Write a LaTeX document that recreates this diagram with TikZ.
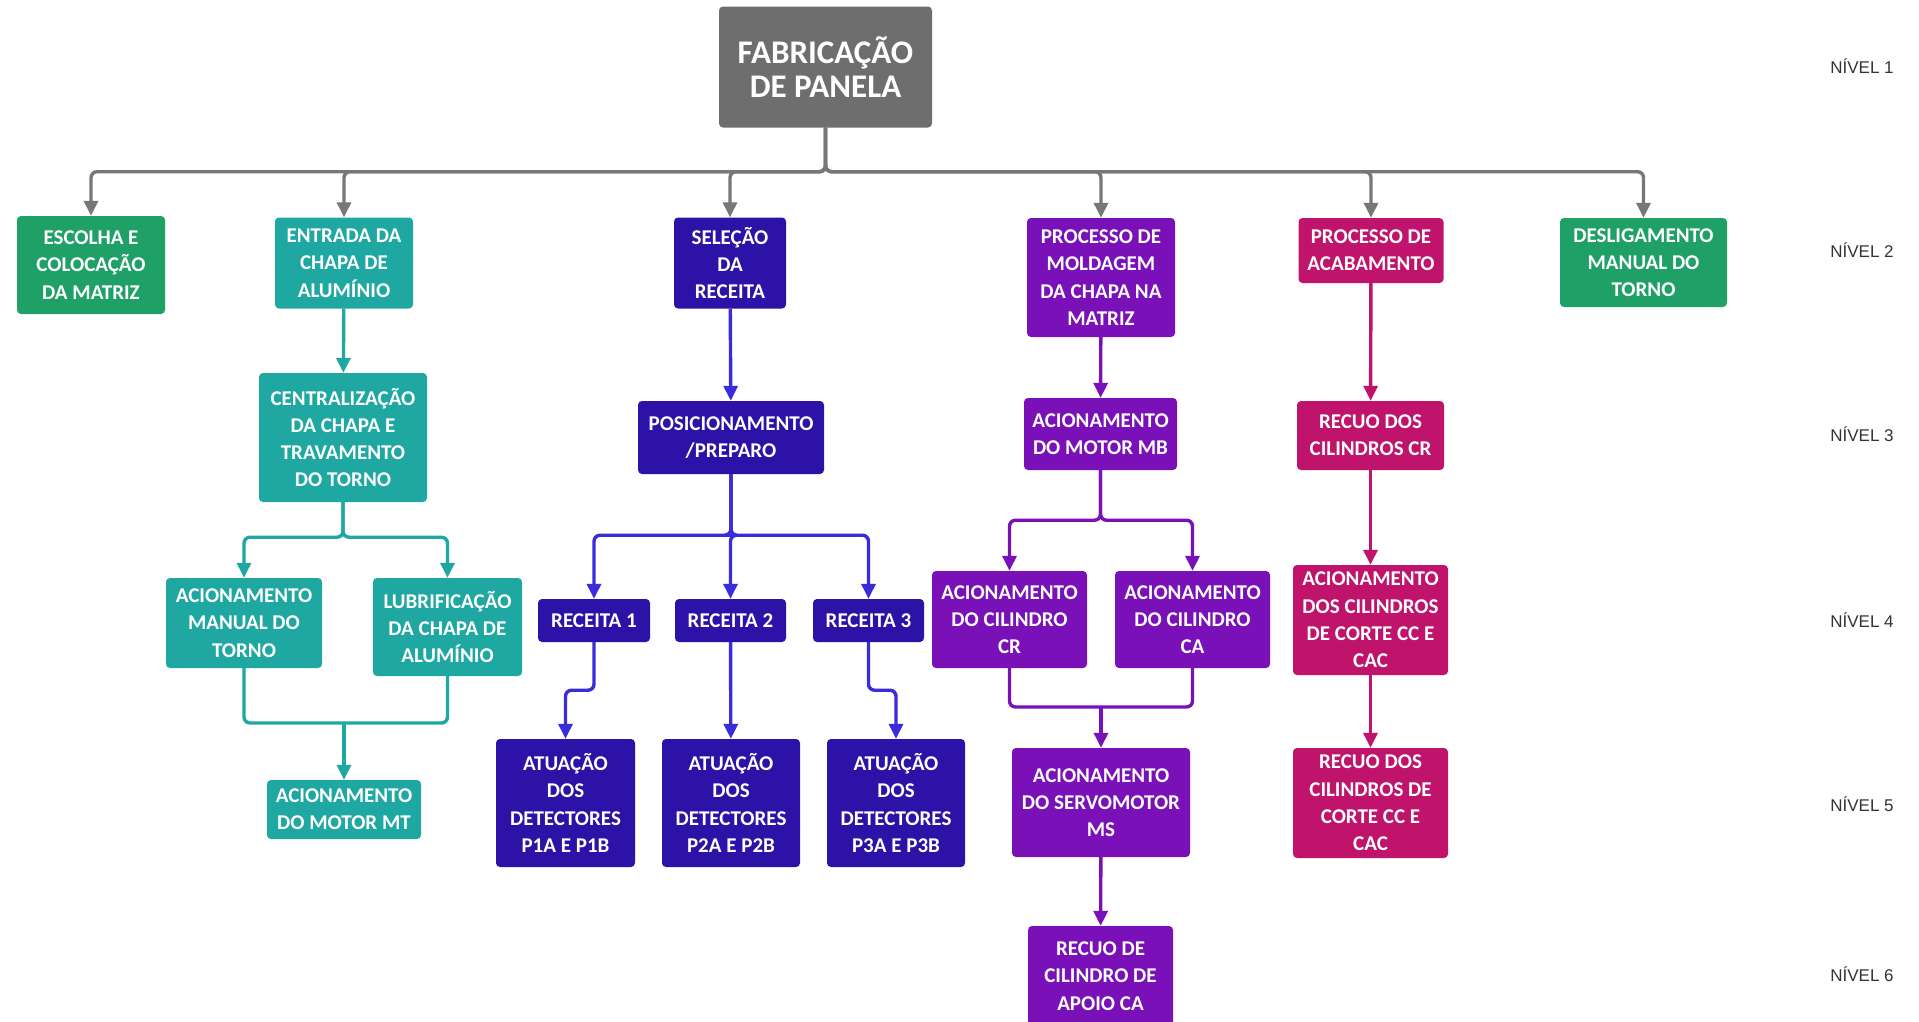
\documentclass[tikz,border=0pt]{standalone}
\usepackage{fontspec}
\setmainfont{Carlito}
\newfontfamily\lvlfont{Liberation Sans}
\usetikzlibrary{arrows.meta,positioning}
\definecolor{fpgrey}{HTML}{6E6E6E}
\definecolor{fpline}{HTML}{777777}
\definecolor{fpgreen}{HTML}{1FA067}
\definecolor{fpteal}{HTML}{1FA8A1}
\definecolor{fpindigo}{HTML}{2C12A6}
\definecolor{fpblue}{HTML}{3A2BDC}
\definecolor{fppurple}{HTML}{7A10B8}
\definecolor{fpmagenta}{HTML}{C0136C}

\begin{document}
\begin{tikzpicture}[
  x=1pt, y=-1pt,
  font=\fontsize{21}{27.3}\selectfont\bfseries,
  box/.style={fill=#1, text=white, rounded corners=4pt, inner sep=2pt, align=center},
  sz/.style 2 args={minimum width=#1, minimum height=#2},
  arr/.style={-{Triangle[length=15pt,width=14pt]}, line width=3.4pt, draw=#1, rounded corners=6pt},
  ln/.style={line width=3.4pt, draw=#1, rounded corners=6pt},
  lvl/.style={font=\lvlfont\fontsize{17}{20}\selectfont, text=black!80},
]
\useasboundingbox (0,0) rectangle (1919,1021);

% level 1
\node[box=fpgrey, sz={213pt}{121pt}, font=\fontsize{33}{34}\selectfont\bfseries] (root) at (825.5,67) {FABRICAÇÃO\\DE PANELA};

% level 2
\node[box=fpgreen, sz={148pt}{98pt}] (esc) at (91,265) {ESCOLHA E\\COLOCAÇÃO\\DA MATRIZ};
\node[box=fpteal, sz={138pt}{91pt}] (ent) at (344,263) {ENTRADA DA\\CHAPA DE\\ALUMÍNIO};
\node[box=fpindigo, sz={112pt}{91pt}] (sel) at (730,263) {SELEÇÃO\\DA\\RECEITA};
\node[box=fppurple, sz={148pt}{119pt}] (mol) at (1101,277.5) {PROCESSO DE\\MOLDAGEM\\DA CHAPA NA\\MATRIZ};
\node[box=fpmagenta, sz={145pt}{65pt}] (aca) at (1371,250.5) {PROCESSO DE\\ACABAMENTO};
\node[box=fpgreen, sz={167pt}{89pt}] (des) at (1643.5,262.5) {DESLIGAMENTO\\MANUAL DO\\TORNO};

% level 3
\node[box=fpteal, sz={168pt}{129pt}] (cen) at (343,437.5) {CENTRALIZAÇÃO\\DA CHAPA E\\TRAVAMENTO\\DO TORNO};
\node[box=fpindigo, sz={186pt}{73pt}] (pos) at (731,437.5) {POSICIONAMENTO\\/PREPARO};
\node[box=fppurple, sz={153pt}{72pt}] (mb) at (1100.5,434) {ACIONAMENTO\\DO MOTOR MB};
\node[box=fpmagenta, sz={147pt}{69pt}] (rcr) at (1370.5,435.5) {RECUO DOS\\CILINDROS CR};

% level 4
\node[box=fpteal, sz={156pt}{90pt}] (man) at (244,623) {ACIONAMENTO\\MANUAL DO\\TORNO};
\node[box=fpteal, sz={149pt}{98pt}] (lub) at (447.5,627) {LUBRIFICAÇÃO\\DA CHAPA DE\\ALUMÍNIO};
\node[box=fpindigo, sz={112pt}{43pt}] (rec1) at (594,620.5) {RECEITA 1};
\node[box=fpindigo, sz={111pt}{43pt}] (rec2) at (730.5,620.5) {RECEITA 2};
\node[box=fpindigo, sz={111pt}{43pt}] (rec3) at (868.5,620.5) {RECEITA 3};
\node[box=fppurple, sz={155pt}{97pt}] (ccr) at (1009.5,619.5) {ACIONAMENTO\\DO CILINDRO\\CR};
\node[box=fppurple, sz={155pt}{97pt}] (cca) at (1192.5,619.5) {ACIONAMENTO\\DO CILINDRO\\CA};
\node[box=fpmagenta, sz={155pt}{110pt}] (acc) at (1370.5,620) {ACIONAMENTO\\DOS CILINDROS\\DE CORTE CC E\\CAC};

% level 5
\node[box=fpteal, sz={154pt}{59pt}] (mt) at (344,809.5) {ACIONAMENTO\\DO MOTOR MT};
\node[box=fpindigo, sz={139pt}{128pt}] (det1) at (565.5,803) {ATUAÇÃO\\DOS\\DETECTORES\\P1A E P1B};
\node[box=fpindigo, sz={138pt}{128pt}] (det2) at (731,803) {ATUAÇÃO\\DOS\\DETECTORES\\P2A E P2B};
\node[box=fpindigo, sz={138pt}{128pt}] (det3) at (896,803) {ATUAÇÃO\\DOS\\DETECTORES\\P3A E P3B};
\node[box=fppurple, sz={178pt}{109pt}] (servo) at (1101,802.5) {ACIONAMENTO\\DO SERVOMOTOR\\MS};
\node[box=fpmagenta, sz={155pt}{110pt}] (rcc) at (1370.5,803) {RECUO DOS\\CILINDROS DE\\CORTE CC E\\CAC};

% level 6
\node[box=fppurple, sz={145pt}{100pt}] (rca) at (1100.5,976) {RECUO DE\\CILINDRO DE\\APOIO CA};

% level labels
\foreach \n/\y in {1/66,2/250,3/434,4/620,5/804,6/974}
  \node[lvl] (nivel\n) at (1862,\y) {NÍVEL \n};

% root to level 2
\foreach \c in {esc,ent,sel,mol,aca,des}
  \draw[arr=fpline] (root.south) -- ++(0,44) -| (\c.north);

% teal branch
\draw[arr=fpteal] (ent) -- (cen);
\draw[arr=fpteal] (cen.south) -- ++(0,35) -| (man.north);
\draw[arr=fpteal] (cen.south) -- ++(0,35) -| (lub.north);
\coordinate (jmt) at (344,723);
\draw[ln=fpteal] (man.south) |- (jmt);
\draw[ln=fpteal] (lub.south) |- (jmt);
\draw[arr=fpteal] (jmt) -- (mt.north);

% blue branch
\draw[arr=fpblue] (sel) -- (pos);
\foreach \c in {rec1,rec2,rec3}
  \draw[arr=fpblue] (pos.south) -- ++(0,61) -| (\c.north);
\draw[arr=fpblue] (rec1.south) -- ++(0,48) -| (det1.north);
\draw[arr=fpblue] (rec2) -- (det2);
\draw[arr=fpblue] (rec3.south) -- ++(0,48) -| (det3.north);

% purple branch
\draw[arr=fppurple] (mol) -- (mb);
\draw[arr=fppurple] (mb.south) -- ++(0,50) -| (ccr.north);
\draw[arr=fppurple] (mb.south) -- ++(0,50) -| (cca.north);
\coordinate (jms) at (1101,707);
\draw[ln=fppurple] (ccr.south) |- (jms);
\draw[ln=fppurple] (cca.south) |- (jms);
\draw[arr=fppurple] (jms) -- (servo.north);
\draw[arr=fppurple] (servo) -- (rca);

% magenta branch
\draw[arr=fpmagenta] (aca) -- (rcr);
\draw[arr=fpmagenta] (rcr) -- (acc);
\draw[arr=fpmagenta] (acc) -- (rcc);
\end{tikzpicture}
\end{document}
